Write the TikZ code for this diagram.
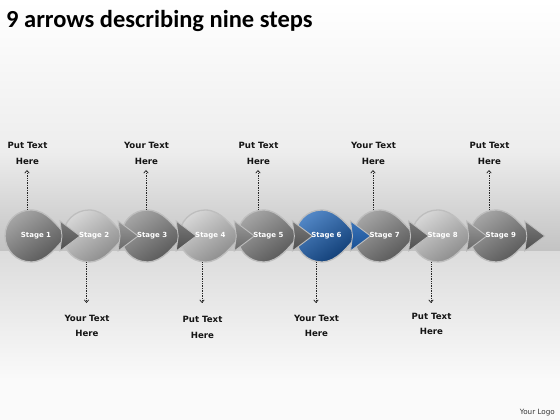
\documentclass[tikz,border=0pt]{standalone}
\usepackage{fontspec}
\setmainfont{DejaVu Sans}
\newfontfamily\titlefont{Carlito}
\usetikzlibrary{arrows.meta}
\definecolor{oddL}{HTML}{A4A4A4}
\definecolor{oddD}{HTML}{555555}
\definecolor{evenL}{HTML}{D6D6D6}
\definecolor{evenD}{HTML}{888888}
\definecolor{blueL}{HTML}{5287C6}
\definecolor{blueD}{HTML}{0D3A72}
\definecolor{hoddL}{HTML}{7A7A7A}
\definecolor{hoddD}{HTML}{4E4E4E}
\definecolor{hevenL}{HTML}{9A9A9A}
\definecolor{hevenD}{HTML}{686868}
\definecolor{hblueL}{HTML}{3A74BA}
\definecolor{hblueD}{HTML}{184F92}
\definecolor{rim}{HTML}{BEBEBE}
\definecolor{bgA}{HTML}{EDEDED}
\definecolor{bgB}{HTML}{C2C2C2}
\definecolor{bgC}{HTML}{DCDCDC}
\definecolor{bgD}{HTML}{FAFAFA}
\tikzset{
  stagetext/.style={text=white,font=\bfseries\fontsize{7}{8}\selectfont,inner sep=0pt},
  lbl/.style={font=\bfseries\fontsize{8.6}{15.5}\selectfont,align=center,inner sep=0pt,text=black!92},
  dotline/.style={densely dotted,line width=0.7pt,black!85,-{Straight Barb[length=2.6pt,width=4.5pt,line width=0.7pt]}},
}
\begin{document}
\begin{tikzpicture}[x=1pt,y=1pt]
\useasboundingbox (0,0) rectangle (560,420);
% background
\shade[top color=white,bottom color=bgA] (0,268) rectangle (560,420);
\shade[top color=bgA,bottom color=bgB] (0,168) rectangle (560,268.2);
\shade[top color=bgC,bottom color=bgD] (0,40) rectangle (560,168.2);
\fill[bgD] (0,0) rectangle (560,40.2);
% title
\node[anchor=base west,inner sep=0pt,font=\titlefont\bfseries\fontsize{24.5}{28}\selectfont] (title) at (6,392) {9 arrows describing nine steps};
\node[anchor=base east,inner sep=0pt,font=\fontsize{7.2}{8}\selectfont,text=black!80] (logo) at (555,5.5) {Your Logo};
% bodies
\foreach \i/\l/\cl/\cd in {1/5/oddL/oddD,2/63.1/evenL/evenD,3/121.2/oddL/oddD,4/179.3/evenL/evenD,5/237.4/oddL/oddD,6/295.5/blueL/blueD,7/353.6/oddL/oddD,8/411.7/evenL/evenD,9/469.8/oddL/oddD}{
  \begin{scope}[shift={(\l,184)}]
    \path[draw=rim,line width=1.3pt,top color=\cl,bottom color=\cd,shading angle=35]
      (26,26) arc[start angle=90,end angle=270,radius=26]
      .. controls (42,-26) and (52,-10) .. (62,0)
      .. controls (52,10) and (42,26) .. (26,26) -- cycle;
  \end{scope}
}
% arrow heads
\foreach \i/\l/\cl/\cd in {1/5/hoddL/hoddD,2/63.1/hevenL/hevenD,3/121.2/hoddL/hoddD,4/179.3/hevenL/hevenD,5/237.4/hoddL/hoddD,6/295.5/hblueL/hblueD,7/353.6/hoddL/hoddD,8/411.7/hevenL/hevenD,9/469.8/hoddL/hoddD}{
  \begin{scope}[shift={(\l,184)}]
    \path[draw=rim,line width=0.9pt,top color=\cl,bottom color=\cd]
      (55,15) -- (75,0) -- (55,-15) -- (57,0) -- cycle;
  \end{scope}
}
% stage labels
\foreach \i/\l in {1/5,2/63.1,3/121.2,4/179.3,5/237.4,6/295.5,7/353.6,8/411.7,9/469.8}{
  \node[stagetext] (s\i) at (\l+31,184) {Stage \i};
}
% top labels
\foreach \i/\x/\t in {1/27/Put,3/146/Your,5/258/Put,7/373/Your,9/489/Put}{
  \coordinate (b\i) at (\x,210.5);
  \node[lbl,anchor=south] (l\i) at (\x+0.5,255.5) {\t{} Text\\Here};
  \draw[dotline,shorten >=5.5pt] (b\i) -- (b\i |- l\i.south);
}
% bottom labels
\foreach \i/\x/\y/\t in {2/86.5/105/Your,4/202/103.7/Put,6/316/105.3/Your,8/431/107/Put}{
  \coordinate (b\i) at (\x,157.5);
  \node[lbl,anchor=north] (l\i) at (\x+0.5,\y) {\t{} Text\\Here};
  \draw[dotline,shorten >=117pt-\y pt] (b\i) -- (b\i |- l\i.north);
}
\end{tikzpicture}
\end{document}
